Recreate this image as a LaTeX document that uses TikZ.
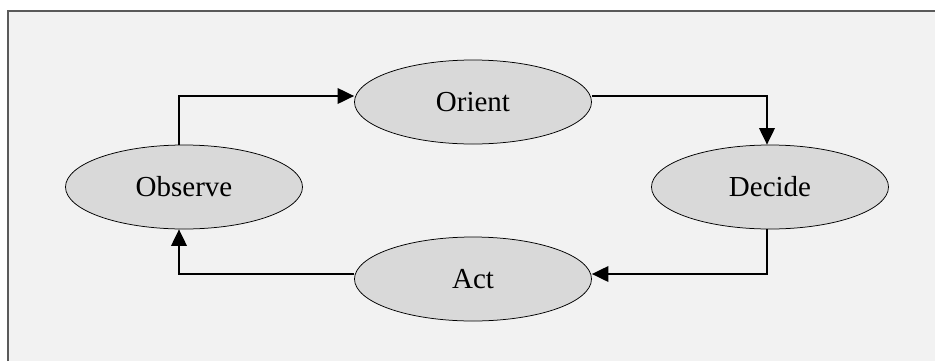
\documentclass[tikz,border=0pt]{standalone}
\usepackage{fontspec}
\setmainfont{Liberation Serif}
\usetikzlibrary{arrows.meta,shapes.geometric}
\definecolor{panel}{HTML}{F2F2F2}
\definecolor{stage}{HTML}{D9D9D9}
\definecolor{rim}{HTML}{5A5A5A}

\begin{document}
\begin{tikzpicture}[x=0.4pt,y=-0.4pt,>={Triangle[length=6.6pt,width=6.2pt]},
 every node/.style={font=\fontsize{11.6}{14}\selectfont},
 stagebox/.style={ellipse,draw,line width=0.3pt,fill=stage,inner sep=0pt,
  minimum width=94.8pt,minimum height=33.6pt},
 flow/.style={->,line width=0.8pt}]
\useasboundingbox (0,0) rectangle (935,361);
\fill[panel] (8,11) rectangle (935,361);
\draw[rim,line width=0.7pt] (8,361)--(8,11)--(935,11);
\node[stagebox] (ori) at (473,102) {Orient};
\node[stagebox] (obs) at (184,187) {Observe};
\node[stagebox] (dec) at (770,187) {Decide};
\node[stagebox] (act) at (473,279) {Act};
\draw[flow] ([xshift=-2pt]obs.north) |- ([yshift=2.4pt]ori.west);
\draw[flow] ([yshift=2.4pt]ori.east) -| ([xshift=-1.2pt]dec.north);
\draw[flow] ([xshift=-1.2pt]dec.south) |- ([yshift=2pt]act.east);
\draw[flow] ([yshift=2pt]act.west) -| ([xshift=-2pt]obs.south);
\end{tikzpicture}
\end{document}
